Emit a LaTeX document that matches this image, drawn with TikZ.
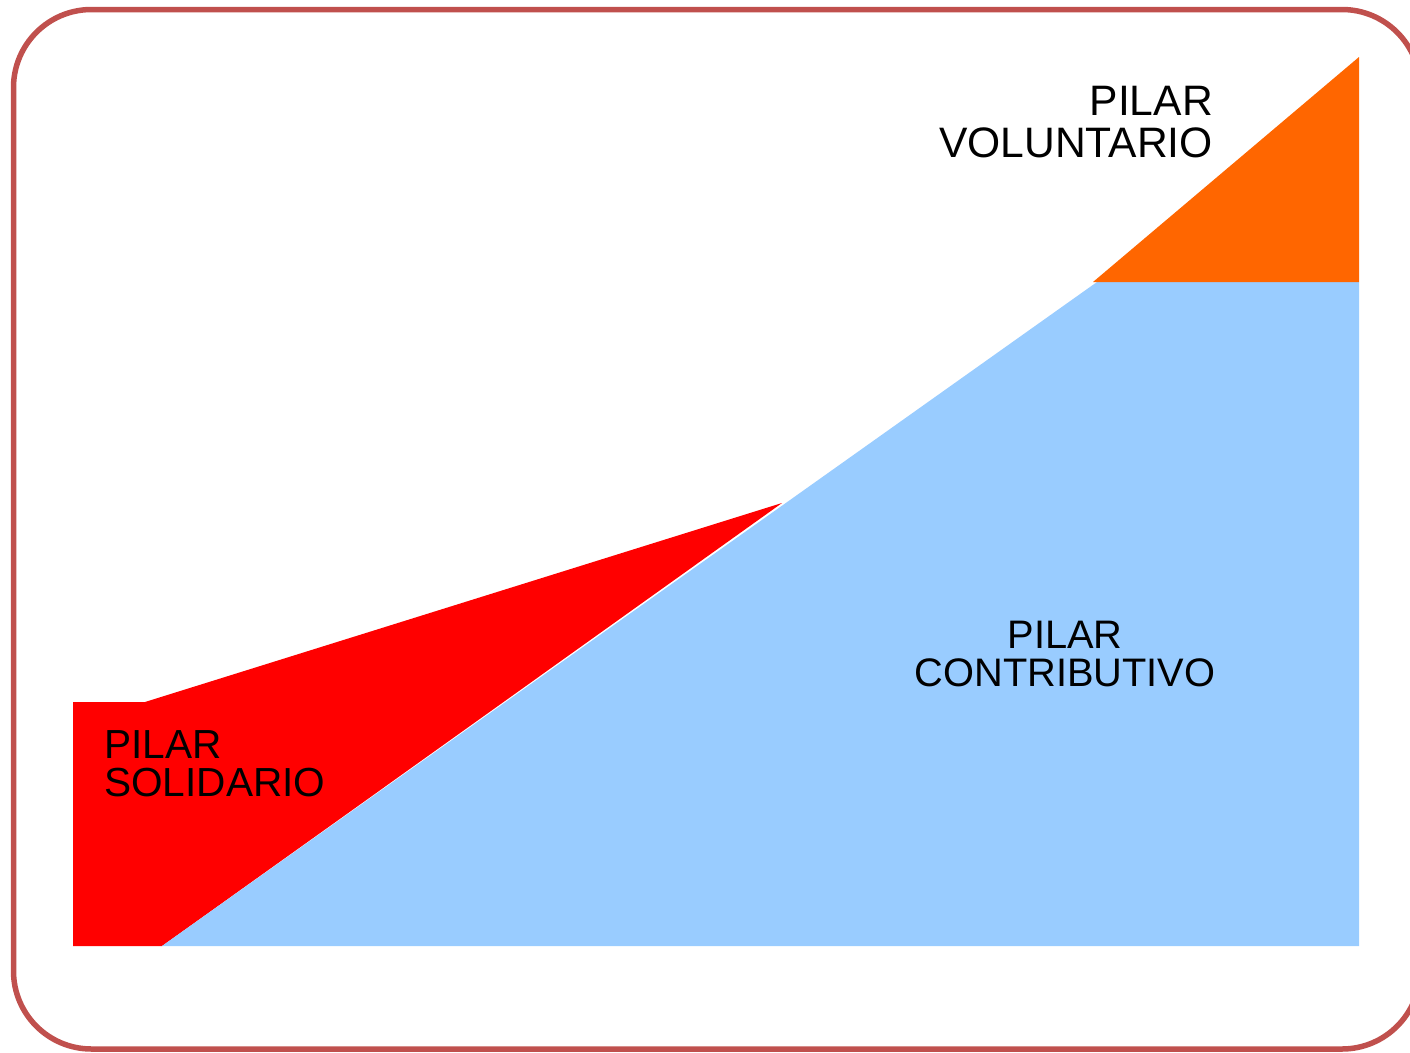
\documentclass[tikz,border=0pt]{standalone}
\usepackage{fontspec}
\setmainfont{Liberation Sans}
\definecolor{framecol}{HTML}{C0504D}
\definecolor{solred}{HTML}{FF0000}
\definecolor{contblue}{HTML}{99CCFF}
\definecolor{volorange}{HTML}{FF6600}
\begin{document}
\begin{tikzpicture}[x=1pt,y=-1pt,
  lbl/.style={inner sep=0pt,text=black,font=\fontsize{40}{39}\selectfont}]
\useasboundingbox (0,0) rectangle (1410,1052);
\draw[framecol,line width=5.5pt,rounded corners=78pt] (13.5,9.5) rectangle (1420,1049);
% areas
\fill[solred] (73,702) -- (145,702) -- (782,503) -- (162,946) -- (73,946) -- cycle;
\fill[contblue] (162,946) -- (1097,282) -- (1359,282) -- (1359,946) -- cycle;
\fill[volorange] (1093,282) -- (1359,57) -- (1359,282) -- cycle;
% labels
\node[lbl,align=right,anchor=base east,font=\fontsize{42.6}{42}\selectfont] (vol) at (1213,157) {PILAR\\VOLUNTARIO};
\node[lbl,align=center,anchor=base,font=\fontsize{39.8}{38}\selectfont] (con) at (1065,686) {PILAR\\CONTRIBUTIVO};
\node[lbl,align=left,anchor=base west,font=\fontsize{40.6}{38}\selectfont] (sol) at (104,796) {PILAR\\SOLIDARIO};
\end{tikzpicture}
\end{document}
